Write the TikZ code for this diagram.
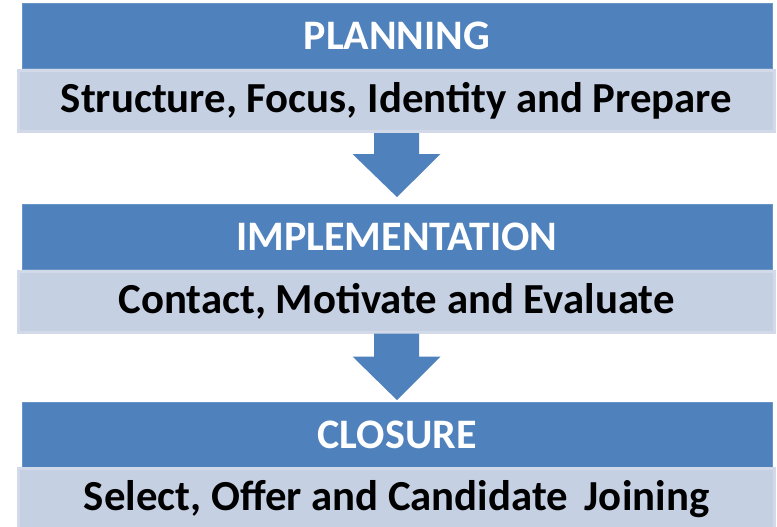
\documentclass[tikz,border=0pt]{standalone}
\usepackage{fontspec}
\setmainfont{Carlito}
\usepackage{tikz}
\usetikzlibrary{calc}
\definecolor{barblue}{HTML}{4F81BD}
\definecolor{barlight}{HTML}{C5D0E3}
\definecolor{barrim}{HTML}{D2DAEA}

\begin{document}
\begin{tikzpicture}[x=1pt,y=-1pt,
    every node/.style={rectangle,inner sep=0pt,font=\bfseries\fontsize{42}{48}\selectfont},
    head/.style={fill=barblue,draw=barblue!85!white,line width=0.8pt,minimum width=750pt,minimum height=65pt,text=white},
    body/.style={fill=barlight,draw=barrim,line width=3pt,minimum width=756pt,minimum height=61pt,text=black,font=\bfseries\fontsize{42.8}{48}\selectfont},
    down/.style={fill=barblue}]
    \useasboundingbox (0,0) rectangle (777,527);
    % planning
    \node[head] (h1) at (397,35.5) {PLANNING};
    \node[body] (b1) at (396.5,101) {Structure, Focus, Identity and Prepare};
    % implementation
    \node[head] (h2) at (397,237) {IMPLEMENTATION};
    \node[body] (b2) at (396.5,301.5) {Contact, Motivate and Evaluate};
    % closure
    \node[head] (h3) at (397,435) {CLOSURE};
    \node[body] (b3) at (396.5,499) {Select, Offer and Candidate\, Joining};
    % block arrows
    \foreach \a/\b/\s/\g in {b1/h2/21/7,b2/h3/23/2}{
      \fill[down] ($(\a.south)+(-22.5,0)$) -- ($(\a.south)+(22.5,0)$)
        -- ($(\a.south)+(22.5,\s)$) -- ($(\a.south)+(44,\s)$)
        -- ($(\b.north)+(0,-\g)$)
        -- ($(\a.south)+(-44,\s)$) -- ($(\a.south)+(-22.5,\s)$) -- cycle;
    }
  \end{tikzpicture}
\end{document}
